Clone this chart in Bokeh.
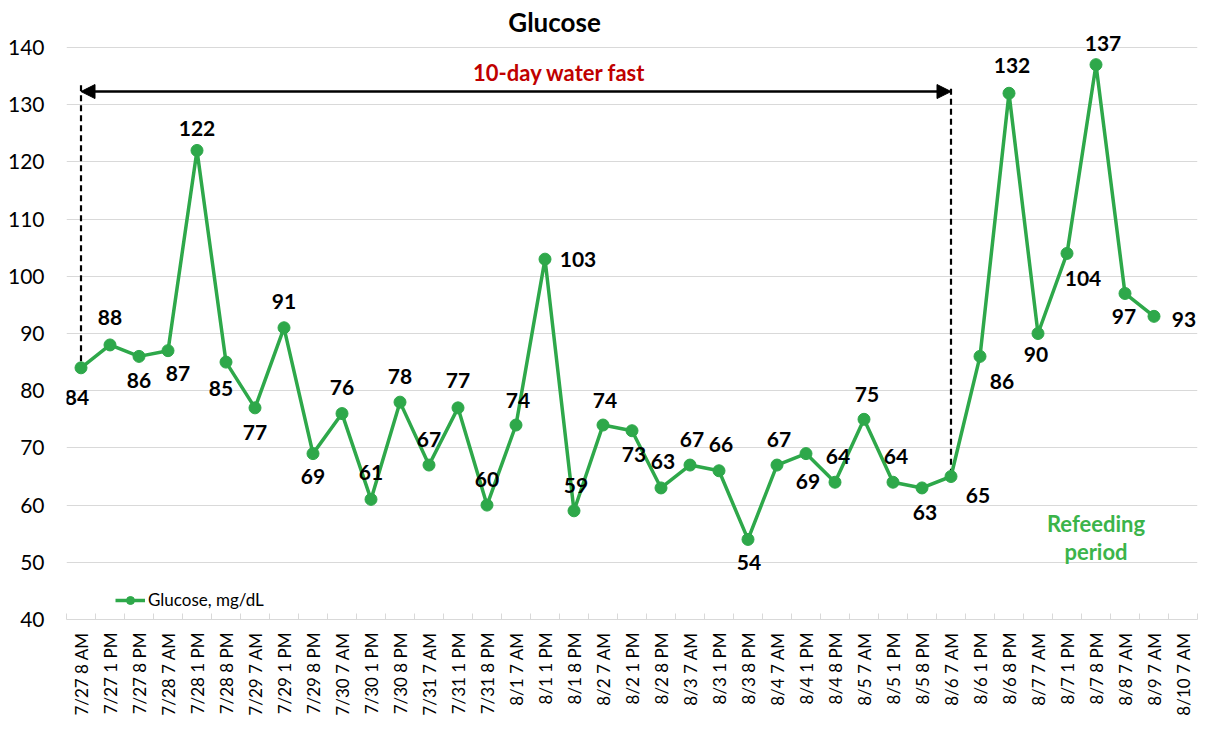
import math
from bokeh.plotting import figure
from bokeh.models import (Range1d, FixedTicker, ColumnDataSource, LabelSet, Arrow,
                          NormalHead, Legend)
from bokeh.core.properties import value
from bokeh.embed import file_html
from bokeh.resources import INLINE

# ---------------- data ----------------
categories = ["7/27 8 AM", "7/27 1 PM", "7/27 8 PM", "7/28 7 AM", "7/28 1 PM", "7/28 8 PM",
              "7/29 7 AM", "7/29 1 PM", "7/29 8 PM", "7/30 7 AM", "7/30 1 PM", "7/30 8 PM",
              "7/31 7 AM", "7/31 1 PM", "7/31 8 PM", "8/1 7 AM", "8/1 1 PM", "8/1 8 PM",
              "8/2 7 AM", "8/2 1 PM", "8/2 8 PM", "8/3 7 AM", "8/3 1 PM", "8/3 8 PM",
              "8/4 7 AM", "8/4 1 PM", "8/4 8 PM", "8/5 7 AM", "8/5 1 PM", "8/5 8 PM",
              "8/6 7 AM", "8/6 1 PM", "8/6 8 PM", "8/7 7 AM", "8/7 1 PM", "8/7 8 PM",
              "8/8 7 AM", "8/9 7 AM", "8/10 7 AM"]
glucose = [84, 88, 86, 87, 122, 85, 77, 91, 69, 76, 61, 78, 67, 77, 60, 74, 103, 59,
           74, 73, 63, 67, 66, 54, 67, 69, 64, 75, 64, 63, 65, 86, 132, 90, 104, 137, 97, 93]
y_ticks = [40, 50, 60, 70, 80, 90, 100, 110, 120, 130, 140]
series_name = "Glucose, mg/dL"
fast_start_idx = 0
fast_end_idx = 30
fast_label = "10-day water fast"
refeed_label = ["Refeeding", "period"]
chart_title = "Glucose"

# label placement (pixel offsets: dx right, dy down)
label_dx = [-4, 0, 0, 10, 0, -5, 0, 0, 0, 0, 0, 0, 0, 0, 0, 2, 33, 2, 2, 2, 2, 2, 2, 1,
            2, 2, 3, 3, 3, 3, 27, 22, 3, -2, 16, 7, -1, 30]
label_dy = [30, -27, 24, 23, -22, 26, 25, -26, 23, -26, -27, -26, -26, -27, -26, -25, 0, -25,
            -25, 24, -26, -26, -26, 23, -26, 28, -26, -25, -26, 25, 19, 25, -28, 21, 25, -21, 23, 3]

GREEN = "#2EA84A"
FONT = "Lato"

n = len(categories)
xs = list(range(len(glucose)))

W, H = 1207, 718
FRAME_BOTTOM = 619          # px from top of canvas
PX_PER_UNIT = 5.72
y_top = y_ticks[0] + FRAME_BOTTOM / PX_PER_UNIT

p = figure(width=W, height=H, output_backend="svg", toolbar_location=None,
           x_range=Range1d(-0.5, n - 0.5), y_range=Range1d(y_ticks[0], y_top),
           min_border_left=66, min_border_right=10, min_border_top=0,
           min_border_bottom=H - FRAME_BOTTOM)
p.outline_line_color = None
p.background_fill_color = "white"
p.border_fill_color = "white"

# x axis
p.xaxis.ticker = FixedTicker(ticks=list(range(n)), minor_ticks=[i - 0.5 for i in range(n + 1)])
p.xaxis.major_label_overrides = {i: c for i, c in enumerate(categories)}
p.xaxis.major_label_orientation = math.pi / 2
p.xaxis.major_label_text_font = FONT
p.xaxis.major_label_text_font_size = "17px"
p.xaxis.major_label_text_color = "black"
p.xaxis.major_label_standoff = 13
p.xaxis.major_tick_line_color = None
p.xaxis.major_tick_in = 0
p.xaxis.major_tick_out = 0
p.xaxis.minor_tick_in = 6
p.xaxis.minor_tick_out = 0
p.xaxis.minor_tick_line_color = "#d9d9d9"
p.xaxis.axis_line_color = "#d9d9d9"
p.xgrid.grid_line_color = None

# y axis
p.yaxis.ticker = FixedTicker(ticks=y_ticks)
p.yaxis.axis_line_color = None
p.yaxis.major_tick_line_color = None
p.yaxis.minor_tick_line_color = None
p.yaxis.major_tick_in = 0
p.yaxis.major_tick_out = 0
p.yaxis.major_label_standoff = 22
p.yaxis.major_label_text_font = FONT
p.yaxis.major_label_text_font_size = "21px"
p.yaxis.major_label_text_color = "black"
p.ygrid.ticker = FixedTicker(ticks=y_ticks)
p.ygrid.grid_line_color = "#d9d9d9"
p.ygrid.grid_line_width = 1

# title (drawn inside the top of the frame)
p.text(x=[16.33], y=[144.4], text=[chart_title], text_font=value(FONT), text_font_size="26px",
       text_font_style="bold", text_color="black", text_align="center", text_baseline="middle")

# fast annotations
seg_src = ColumnDataSource(dict(x0=[fast_start_idx, fast_end_idx], x1=[fast_start_idx, fast_end_idx],
                                y0=[133.4, 132.8], y1=[glucose[fast_start_idx], glucose[fast_end_idx]]))
p.segment(x0="x0", y0="y0", x1="x1", y1="y1", source=seg_src, line_color="black",
          line_width=2.2, line_dash="6 4")
p.add_layout(Arrow(x_start=fast_start_idx, y_start=132.3, x_end=fast_end_idx, y_end=132.3,
                   line_width=2.5, line_color="black",
                   start=NormalHead(size=14, fill_color="black", line_color="black"),
                   end=NormalHead(size=14, fill_color="black", line_color="black")))
p.text(x=[16.5], y=[135.6], text=[fast_label], text_font=value(FONT), text_font_size="22px",
       text_font_style="bold", text_color="#C00000", text_align="center", text_baseline="middle")
p.text(x=[35, 35], y=[56.8, 51.9], text=refeed_label, text_font=value(FONT), text_font_size="22px",
       text_font_style="bold", text_color="#3BB44A", text_align="center", text_baseline="middle")

# series
src = ColumnDataSource(dict(x=xs, y=glucose, t=[str(v) for v in glucose],
                            dx=label_dx, dy=[-d for d in label_dy]))
r_line = p.line("x", "y", source=src, line_color=GREEN, line_width=3.5)
r_pts = p.scatter("x", "y", source=src, size=12, fill_color=GREEN, line_color=GREEN)
p.add_layout(LabelSet(x="x", y="y", text="t", source=src, x_offset="dx", y_offset="dy",
                      text_font=value(FONT), text_font_size="21px", text_font_style="bold",
                      text_color="black", text_align="center", text_baseline="middle"))

legend = Legend(items=[(series_name, [r_line, r_pts])], location=(49, 9),
                glyph_width=30, glyph_height=20, label_standoff=3, padding=0, margin=0,
                spacing=0, border_line_color=None, background_fill_alpha=0,
                label_text_font=FONT, label_text_font_size="17px", label_text_color="black")
p.add_layout(legend, "center")

open("out.html", "w").write(file_html(p, INLINE))
